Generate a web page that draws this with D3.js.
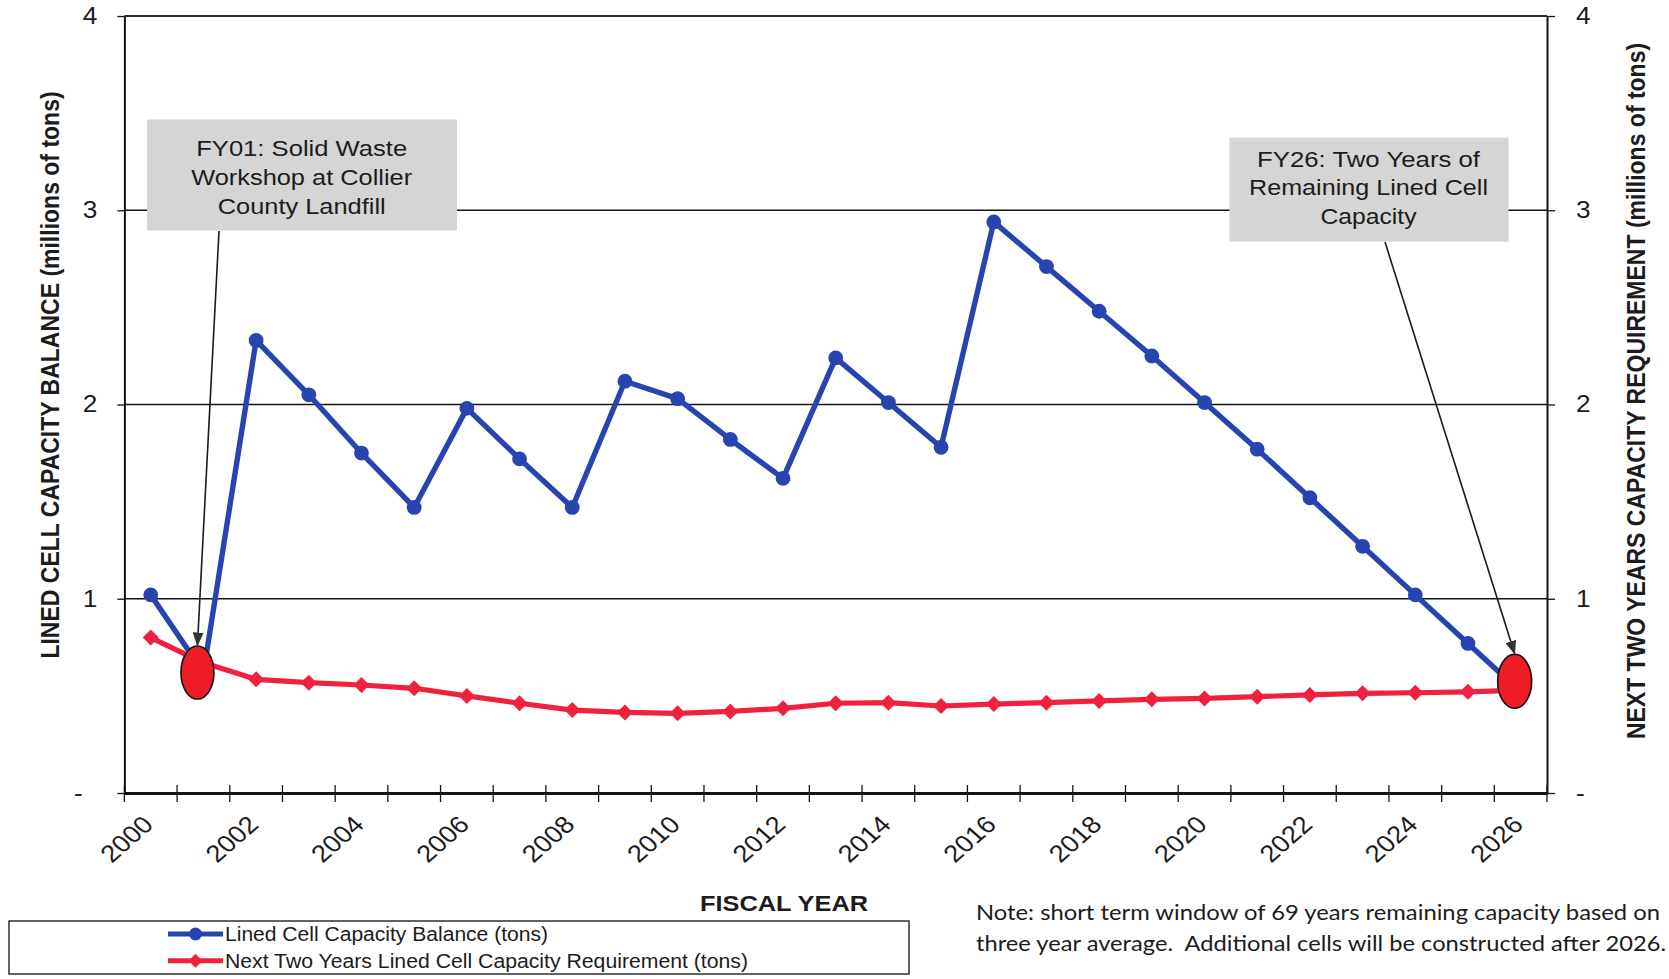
<!DOCTYPE html>
<html>
<head>
<meta charset="utf-8">
<script src="https://cdn.jsdelivr.net/npm/d3@7"></script>
<style>
  html, body { margin: 0; padding: 0; background: #ffffff; }
  svg { display: block; }
  text { font-family: "Liberation Sans", Arial, Helvetica, sans-serif; fill: #1c1c1c; }
  text.note { font-family: Lato, "Open Sans", sans-serif; white-space: pre; }
</style>
</head>
<body>
<svg id="chart" width="1669" height="979"></svg>
<script>
// ---- Data (millions of tons) ----
const years = [2000, 2001, 2002, 2003, 2004, 2005, 2006, 2007, 2008, 2009,
               2010, 2011, 2012, 2013, 2014, 2015, 2016, 2017, 2018, 2019,
               2020, 2021, 2022, 2023, 2024, 2025, 2026];

const capacityBalance = [1.02, 0.62, 2.33, 2.05, 1.75, 1.47, 1.98, 1.72, 1.47, 2.12,
                         2.03, 1.82, 1.62, 2.24, 2.01, 1.78, 2.94, 2.71, 2.48, 2.25,
                         2.01, 1.77, 1.52, 1.27, 1.02, 0.77, 0.52];

const twoYearRequirement = [0.80, 0.67, 0.585, 0.568, 0.556, 0.539, 0.50, 0.462, 0.427, 0.415,
                            0.41, 0.42, 0.436, 0.462, 0.465, 0.448, 0.458, 0.465, 0.474, 0.482,
                            0.487, 0.496, 0.505, 0.513, 0.516, 0.521, 0.53];

const yearTicks = [2000, 2002, 2004, 2006, 2008, 2010, 2012, 2014, 2016, 2018, 2020, 2022, 2024, 2026];
const valueTicks = [0, 1, 2, 3, 4];
const valueTickLabels = ["-", "1", "2", "3", "4"];

const seriesNames = ["Lined Cell Capacity Balance (tons)",
                     "Next Two Years Lined Cell Capacity Requirement (tons)"];

const callouts = [
  { year: 2001, value: 0.62,  lines: ["FY01: Solid Waste", "Workshop at Collier", "County Landfill"] },
  { year: 2026, value: 0.575, lines: ["FY26: Two Years of", "Remaining Lined Cell", "Capacity"] }
];

const noteLines = ["Note: short term window of 69 years remaining capacity based on",
                   "three year average.  Additional cells will be constructed after 2026."];

// ---- Layout ----
const plot = { left: 124.4, right: 1547, top: 16, bottom: 793 };
const SX = 1.14;                 // lettering is set slightly wide
const BLUE = "#2744b0", RED = "#f1213d", INK = "#141414";

const calloutLayout = [
  { x: 147, y: 119.5, w: 310, h: 111, tx: 301.7, ty: [156, 185, 213.5], widths: [211, 221, 168], from: [219, 231], dx: -6, rx: 16.5, ry: 26.5 },
  { x: 1229.5, y: 137.7, w: 279, h: 104, tx: 1368.5, ty: [166.5, 195, 223.5], widths: [223, 239, 96], from: [1385, 242], dx: -6, rx: 17, ry: 27 }
];

const svg = d3.select("#chart");

const x = d3.scaleBand().domain(years).range([plot.left, plot.right]).paddingInner(0).paddingOuter(0);
const y = d3.scaleLinear().domain([0, 4]).range([plot.bottom, plot.top]);
const cx = d => x(d) + x.bandwidth() / 2;

// arrowhead
svg.append("defs").append("marker")
  .attr("id", "arrowhead")
  .attr("viewBox", "0 0 14 11")
  .attr("refX", 13).attr("refY", 5.5)
  .attr("markerWidth", 14).attr("markerHeight", 11)
  .attr("markerUnits", "userSpaceOnUse")
  .attr("orient", "auto")
  .append("path").attr("d", "M0,0 L14,5.5 L0,11 Z").attr("fill", "#333");

// ---- Gridlines ----
svg.append("g").selectAll("line")
  .data(valueTicks.filter(v => v > 0 && v < 4))
  .join("line")
  .attr("x1", plot.left).attr("x2", plot.right)
  .attr("y1", d => y(d)).attr("y2", d => y(d))
  .attr("stroke", INK).attr("stroke-width", 1.3);

svg.append("line")
  .attr("x1", plot.left).attr("x2", plot.right)
  .attr("y1", y(4)).attr("y2", y(4))
  .attr("stroke", "#2a2a2a").attr("stroke-width", 2.2);

// ---- Callout boxes ----
const boxG = svg.append("g");
callouts.forEach((c, i) => {
  const L = calloutLayout[i];
  boxG.append("rect")
    .attr("x", L.x).attr("y", L.y).attr("width", L.w).attr("height", L.h)
    .attr("fill", "#d5d5d5");
  c.lines.forEach((line, j) => {
    boxG.append("text")
      .attr("x", L.tx).attr("y", L.ty[j])
      .attr("text-anchor", "middle")
      .attr("font-size", 22.8)
      .attr("textLength", L.widths[j])
      .attr("lengthAdjust", "spacingAndGlyphs")
      .text(line);
  });
});

// ---- Axes ----
function stretchLabels(sel) {
  sel.selectAll(".tick text").each(function () {
    const t = d3.select(this);
    const x0 = +t.attr("x") || 0;
    const y0 = +t.attr("y") || 0;
    t.attr("x", null).attr("y", null)
     .attr("transform", `translate(${x0},${y0}) scale(${SX},1)`);
  });
}

const leftAxis = svg.append("g")
  .attr("transform", `translate(${plot.left},0)`)
  .call(d3.axisLeft(y).tickValues(valueTicks).tickSize(7).tickSizeOuter(0).tickPadding(20)
        .tickFormat((d, i) => valueTickLabels[i] === "-" ? "-\u2007" : valueTickLabels[i]));
leftAxis.select(".domain").attr("stroke", INK).attr("stroke-width", 2);
leftAxis.selectAll(".tick line").attr("stroke", INK).attr("stroke-width", 1.3);
leftAxis.selectAll(".tick text").attr("font-size", 23).attr("fill", "#1c1c1c");
stretchLabels(leftAxis);

const rightAxis = svg.append("g")
  .attr("transform", `translate(${plot.right},0)`)
  .call(d3.axisRight(y).tickValues(valueTicks).tickSize(8).tickSizeOuter(0).tickPadding(21)
        .tickFormat((d, i) => valueTickLabels[i]));
rightAxis.select(".domain").attr("stroke", INK).attr("stroke-width", 2);
rightAxis.selectAll(".tick line").attr("stroke", INK).attr("stroke-width", 1.3);
rightAxis.selectAll(".tick text").attr("font-size", 23).attr("fill", "#1c1c1c");
stretchLabels(rightAxis);

const bottomAxis = svg.append("g")
  .attr("transform", `translate(0,${plot.bottom})`)
  .call(d3.axisBottom(x).tickValues(yearTicks).tickSize(0).tickSizeOuter(0).tickFormat(String));
bottomAxis.select(".domain").attr("stroke", INK).attr("stroke-width", 3);
bottomAxis.selectAll(".tick text")
  .attr("font-size", 24).attr("fill", "#1c1c1c")
  .attr("text-anchor", "end")
  .attr("dy", null).attr("y", null)
  .attr("transform", `translate(4,33) scale(${SX},1) rotate(-45)`);

// category boundary tick marks (crossing the axis)
const boundaries = years.map(d => x(d)).concat([x(years[years.length - 1]) + x.bandwidth()]);
svg.append("g").selectAll("line")
  .data(boundaries)
  .join("line")
  .attr("x1", d => d).attr("x2", d => d)
  .attr("y1", plot.bottom - 8).attr("y2", plot.bottom + 9)
  .attr("stroke", INK).attr("stroke-width", 1.3);

// ---- Axis titles ----
svg.append("text")
  .attr("transform", `translate(59,375) scale(${SX},1) rotate(-90)`)
  .attr("text-anchor", "middle")
  .attr("font-size", 23).attr("font-weight", "bold")
  .text("LINED CELL CAPACITY BALANCE (millions of tons)");

svg.append("text")
  .attr("transform", `translate(1645,391) scale(${SX},1) rotate(-90)`)
  .attr("text-anchor", "middle")
  .attr("font-size", 23).attr("font-weight", "bold")
  .text("NEXT TWO YEARS CAPACITY REQUIREMENT (millions of tons)");

svg.append("text")
  .attr("x", 784).attr("y", 910.5)
  .attr("text-anchor", "middle")
  .attr("font-size", 22.5).attr("font-weight", "bold")
  .attr("textLength", 168).attr("lengthAdjust", "spacingAndGlyphs")
  .text("FISCAL YEAR");

// ---- Series ----
const line = d3.line().x((d, i) => cx(years[i])).y(d => y(d));
const diamond = r => `M0,${-r} L${r},0 L0,${r} L${-r},0 Z`;

svg.append("path").datum(capacityBalance)
  .attr("d", line).attr("fill", "none")
  .attr("stroke", BLUE).attr("stroke-width", 5.4).attr("stroke-linejoin", "round");
svg.append("g").selectAll("circle")
  .data(capacityBalance)
  .join("circle")
  .attr("cx", (d, i) => cx(years[i])).attr("cy", d => y(d))
  .attr("r", 7.4).attr("fill", BLUE);

svg.append("path").datum(twoYearRequirement)
  .attr("d", line).attr("fill", "none")
  .attr("stroke", RED).attr("stroke-width", 5.2).attr("stroke-linejoin", "round");
svg.append("g").selectAll("path")
  .data(twoYearRequirement)
  .join("path")
  .attr("transform", (d, i) => `translate(${cx(years[i])},${y(d)})`)
  .attr("d", diamond(8)).attr("fill", RED);

// ---- Callout ovals and arrows ----
callouts.forEach((c, i) => {
  const L = calloutLayout[i];
  const ox = cx(c.year) + L.dx, oy = y(c.value);
  svg.append("ellipse")
    .attr("cx", ox).attr("cy", oy).attr("rx", L.rx).attr("ry", L.ry)
    .attr("fill", "#ee1c24").attr("stroke", "#111").attr("stroke-width", 1.6);
  svg.append("line")
    .attr("x1", L.from[0]).attr("y1", L.from[1])
    .attr("x2", ox).attr("y2", oy - L.ry - 0.5)
    .attr("stroke", "#1a1a1a").attr("stroke-width", 1.6)
    .attr("marker-end", "url(#arrowhead)");
});

// ---- Legend ----
const legend = svg.append("g");
legend.append("rect")
  .attr("x", 9).attr("y", 921).attr("width", 900).attr("height", 53)
  .attr("fill", "#fff").attr("stroke", "#222").attr("stroke-width", 1.4);
const legendColors = [BLUE, RED];
const legendWidths = [323, 523];
seriesNames.forEach((name, i) => {
  const ly = 934 + i * 26.7;
  legend.append("line")
    .attr("x1", 168).attr("x2", 223).attr("y1", ly).attr("y2", ly)
    .attr("stroke", legendColors[i]).attr("stroke-width", 5);
  if (i === 0) {
    legend.append("circle").attr("cx", 195.5).attr("cy", ly).attr("r", 6.5).attr("fill", BLUE);
  } else {
    legend.append("path").attr("transform", `translate(195.5,${ly})`).attr("d", diamond(7)).attr("fill", RED);
  }
  legend.append("text")
    .attr("x", 225).attr("y", ly + 7)
    .attr("font-size", 19.5)
    .attr("textLength", legendWidths[i]).attr("lengthAdjust", "spacingAndGlyphs")
    .text(name);
});

// ---- Note ----
const noteWidths = [684, 690];
noteLines.forEach((t, i) => {
  svg.append("text")
    .attr("class", "note")
    .attr("x", 976).attr("y", 920 + i * 31)
    .attr("font-size", 21.5)
    .attr("textLength", noteWidths[i]).attr("lengthAdjust", "spacingAndGlyphs")
    .text(t);
});
</script>
</body>
</html>
